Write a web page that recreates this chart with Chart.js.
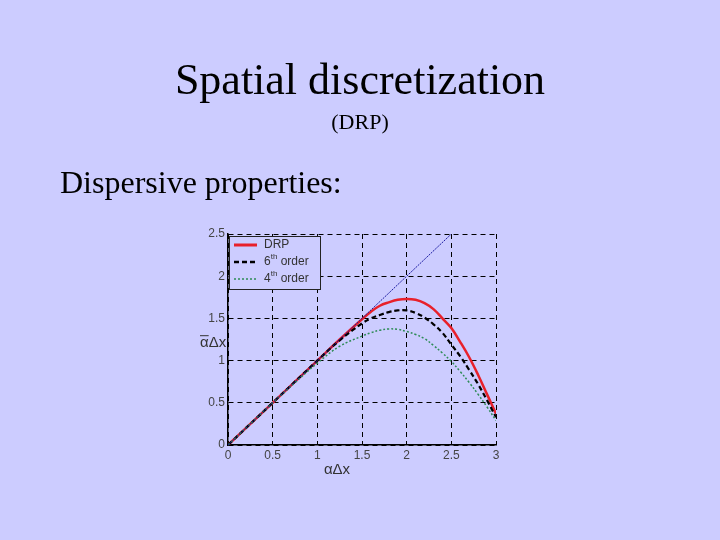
<!DOCTYPE html>
<html>
<head>
<meta charset="utf-8">
<script src="https://cdn.jsdelivr.net/npm/chart.js@4.4.0/dist/chart.umd.min.js"></script>
<style>
  html, body { margin: 0; padding: 0; background: #ccccff; }
  #wrap { position: relative; width: 720px; height: 540px; overflow: hidden; }
  #chart { position: absolute; left: 0; top: 0; }
  .txt { position: absolute; font-family: "Liberation Serif", "Times New Roman", serif; color: #000; white-space: nowrap; line-height: 1; }
  #title { left: 0; width: 720px; text-align: center; top: 58px; font-size: 44px; }
  #sub { left: 0; width: 720px; text-align: center; top: 111px; font-size: 22px; }
  #lead { left: 60px; top: 166px; font-size: 32px; }
</style>
</head>
<body>
<div id="wrap">
  <canvas id="chart" width="720" height="540"></canvas>
  <div class="txt" id="title">Spatial discretization</div>
  <div class="txt" id="sub">(DRP)</div>
  <div class="txt" id="lead">Dispersive properties:</div>
</div>
<script>
// values
var exactX = [0, 2.5]
var exactY = [0, 2.5]

var drpX = [0, 0.5, 1, 1.25, 1.5, 1.6, 1.7, 1.8, 1.9, 2.0, 2.1, 2.2, 2.3, 2.4, 2.5, 2.6, 2.7, 2.8, 2.9, 3.0]
var drpY = [0, 0.5, 1.0, 1.25, 1.49, 1.58, 1.65, 1.69, 1.72, 1.73, 1.72, 1.68, 1.61, 1.50, 1.385, 1.22, 1.04, 0.83, 0.60, 0.37]

var ord6X = [0, 0.5, 1, 1.25, 1.5, 1.6, 1.7, 1.8, 1.9, 2.0, 2.1, 2.2, 2.3, 2.4, 2.5, 2.6, 2.7, 2.8, 2.9, 3.0]
var ord6Y = [0, 0.5, 1.0, 1.24, 1.44, 1.50, 1.54, 1.575, 1.595, 1.595, 1.565, 1.51, 1.43, 1.33, 1.19, 1.05, 0.89, 0.72, 0.53, 0.33]

var ord4X = [0, 0.5, 0.75, 1, 1.25, 1.5, 1.6, 1.7, 1.8, 1.9, 2.0, 2.1, 2.2, 2.3, 2.4, 2.5, 2.6, 2.7, 2.8, 2.9, 3.0]
var ord4Y = [0, 0.5, 0.74, 0.97, 1.17, 1.29, 1.33, 1.36, 1.375, 1.37, 1.345, 1.31, 1.26, 1.18, 1.09, 0.99, 0.87, 0.74, 0.60, 0.45, 0.29]

var xTicks = [0, 0.5, 1, 1.5, 2, 2.5, 3]
var yTicks = [0, 0.5, 1, 1.5, 2, 2.5]

function pts(xs, ys) {
    return xs.map((x, i) => ({ x: x, y: ys[i] }))
}

var legendItems = [
    { main: "DRP", sup: "", rest: "", color: "#e8202a", width: 3, dash: [] },
    { main: "6", sup: "th", rest: " order", color: "#000000", width: 2.5, dash: [5, 3] },
    { main: "4", sup: "th", rest: " order", color: "#2e8b57", width: 1.5, dash: [2, 2] }
]

var overlay = {
    id: 'overlay',
    afterDraw(chart) {
        var ctx = chart.ctx
        var a = chart.chartArea
        ctx.save()
        // legend box
        var bx = a.left + 1, by = a.top + 2, bw = 91, bh = 53
        ctx.fillStyle = "#ccccff"
        ctx.fillRect(bx, by, bw, bh)
        ctx.strokeStyle = "#222"
        ctx.lineWidth = 1
        ctx.setLineDash([])
        ctx.strokeRect(bx + 0.5, by + 0.5, bw, bh)
        legendItems.forEach((it, i) => {
            var y = by + 9 + i * 17
            ctx.save()
            ctx.strokeStyle = it.color
            ctx.lineWidth = it.width
            ctx.setLineDash(it.dash)
            ctx.beginPath()
            ctx.moveTo(bx + 5, y)
            ctx.lineTo(bx + 28, y)
            ctx.stroke()
            ctx.restore()
            ctx.fillStyle = "#333"
            ctx.textBaseline = "middle"
            ctx.font = "12px 'Liberation Sans', Arial, sans-serif"
            var tx = bx + 35
            ctx.fillText(it.main, tx, y)
            tx += ctx.measureText(it.main).width
            if (it.sup) {
                ctx.font = "8px 'Liberation Sans', Arial, sans-serif"
                ctx.fillText(it.sup, tx, y - 5)
                tx += ctx.measureText(it.sup).width
                ctx.font = "12px 'Liberation Sans', Arial, sans-serif"
                ctx.fillText(it.rest, tx, y)
            }
        })
        // axis titles
        ctx.fillStyle = "#333"
        ctx.font = "15px 'Liberation Sans', Arial, sans-serif"
        ctx.textBaseline = "alphabetic"
        var xs = chart.scales.x, ys = chart.scales.y
        var xt = xs.getPixelForValue(1.23) - 14
        var xb = a.bottom + 29
        ctx.fillText("\u03b1\u0394x", xt, xb)
        var yt = a.left - 28
        var yb = ys.getPixelForValue(1.23) + 6
        ctx.fillText("\u03b1\u0394x", yt, yb)
        var aw = ctx.measureText("\u03b1").width
        ctx.strokeStyle = "#333"
        ctx.lineWidth = 1
        ctx.beginPath()
        ctx.moveTo(yt, yb - 11.5)
        ctx.lineTo(yt + aw, yb - 11.5)
        ctx.stroke()
        ctx.restore()
    }
}

var tickFont = { family: "'Liberation Sans', Arial, sans-serif", size: 12 }

var config = {
    type: 'line',
    data: {
        datasets: [
            {
                label: 'exact',
                data: pts(exactX, exactY),
                borderColor: '#1a1aa0',
                borderWidth: 1,
                borderDash: [2, 1],
                pointRadius: 0,
                fill: false
            },
            {
                label: '4th order',
                data: pts(ord4X, ord4Y),
                borderColor: '#2e8b57',
                borderWidth: 1.5,
                borderDash: [2, 2],
                pointRadius: 0,
                tension: 0.4,
                fill: false
            },
            {
                label: '6th order',
                data: pts(ord6X, ord6Y),
                borderColor: '#000000',
                borderWidth: 2.2,
                borderDash: [5, 3],
                pointRadius: 0,
                tension: 0.4,
                fill: false
            },
            {
                label: 'DRP',
                data: pts(drpX, drpY),
                borderColor: '#e8202a',
                borderWidth: 2.5,
                pointRadius: 0,
                tension: 0.4,
                fill: false
            }
        ]
    },
    options: {
        responsive: false,
        animation: false,
        layout: { padding: { left: 198, right: 224, top: 234, bottom: 65 } },
        plugins: {
            legend: { display: false },
            tooltip: { enabled: false }
        },
        scales: {
            x: {
                type: 'linear',
                min: 0,
                max: 3,
                afterFit: (s) => { s.height = 30 },
                afterBuildTicks: (s) => { s.ticks = xTicks.map(v => ({ value: v })) },
                grid: { color: '#000', lineWidth: 1, drawTicks: false },
                border: { display: true, color: '#000', width: 1.5, dash: [5, 4] },
                ticks: { color: '#444', font: tickFont, padding: 3, maxRotation: 0, callback: (v) => String(v) }
            },
            y: {
                type: 'linear',
                min: 0,
                max: 2.5,
                afterFit: (s) => { s.width = 30 },
                afterBuildTicks: (s) => { s.ticks = yTicks.map(v => ({ value: v })) },
                grid: { color: '#000', lineWidth: 1, drawTicks: false },
                border: { display: true, color: '#000', width: 1.5, dash: [5, 4] },
                ticks: { color: '#444', font: tickFont, padding: 3, callback: (v) => String(v) }
            }
        }
    },
    plugins: [overlay]
}

window.addEventListener('load', function () {
    var ctx = document.getElementById('chart').getContext('2d')
    new Chart(ctx, config)
}, false)
</script>
</body>
</html>
